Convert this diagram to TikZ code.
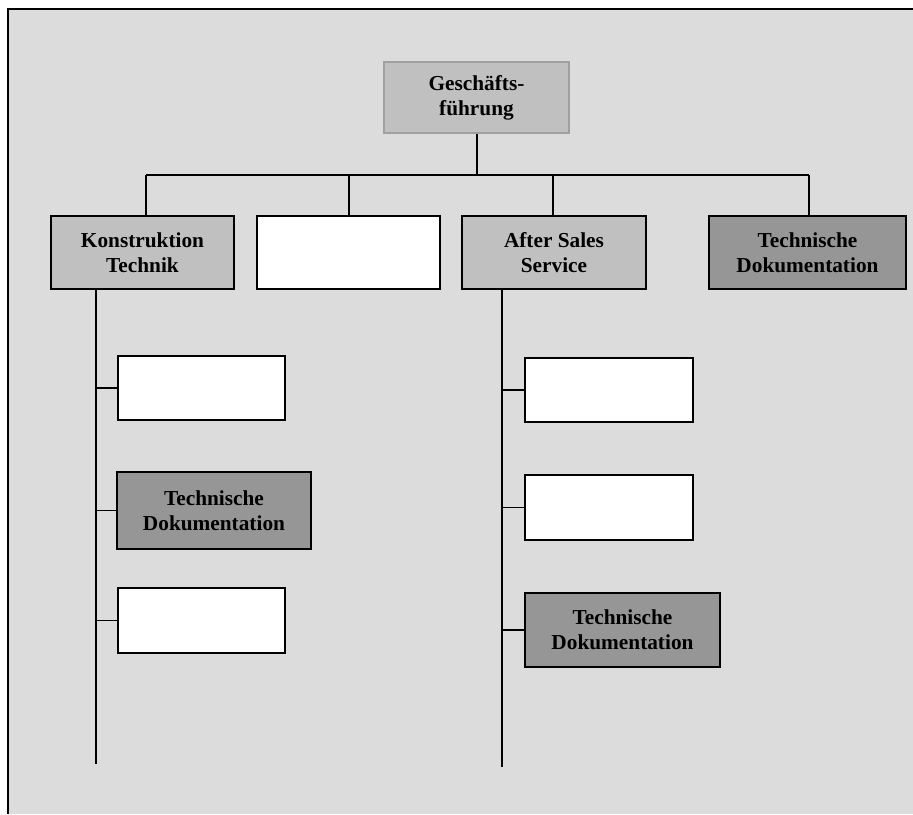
\documentclass[tikz,border=0pt]{standalone}
\usepackage{fontspec}
\setmainfont{Liberation Serif}
\definecolor{bgc}{HTML}{DCDCDC}
\definecolor{lightbox}{HTML}{C0C0C0}
\definecolor{darkbox}{HTML}{969696}
\definecolor{topborder}{HTML}{A0A0A0}
\tikzset{
  box/.style={draw=black, line width=1.6pt, rectangle, align=center, inner sep=0pt,
    font=\fontsize{21.3}{25}\selectfont\bfseries},
  lbox/.style={box, fill=lightbox},
  dbox/.style={box, fill=darkbox},
  wbox/.style={box, fill=white},
  conn/.style={line width=1.6pt, black},
}
\begin{document}
\begin{tikzpicture}[x=1pt, y=-1pt]
\useasboundingbox (0,0) rectangle (913,814);
\fill[white] (0,0) rectangle (913,814);
\fill[bgc] (8,9) rectangle (913,814);
\draw[line width=2pt] (8,814) -- (8,9) -- (913,9);

% top level
\node[lbox, draw=topborder, minimum width=185pt, minimum height=71pt] (g) at (476.5,97.5) {Geschäfts-\\führung};

% second level
\node[lbox, minimum width=183pt, minimum height=73pt] (k) at (142.5,252.5) {Konstruktion\\Technik};
\node[wbox, minimum width=183pt, minimum height=73pt] (w2) at (348.5,252.5) {};
\node[lbox, minimum width=184pt, minimum height=73pt] (a) at (554,252.5) {After Sales\\Service};
\node[dbox, minimum width=197pt, minimum height=73pt] (t1) at (807.5,252.5) {Technische\\Dokumentation};

% left children
\node[wbox, minimum width=167pt, minimum height=64pt] (l1) at (201.5,388) {};
\node[dbox, minimum width=194pt, minimum height=77pt] (l2) at (214,510.5) {Technische\\Dokumentation};
\node[wbox, minimum width=167pt, minimum height=65pt] (l3) at (201.5,620.5) {};

% right children
\node[wbox, minimum width=168pt, minimum height=64pt] (r1) at (609,390) {};
\node[wbox, minimum width=168pt, minimum height=65pt] (r2) at (609,507.5) {};
\node[dbox, minimum width=195pt, minimum height=74pt] (r3) at (622.5,630) {Technische\\Dokumentation};

% bus coordinates
\coordinate (gb) at (477,175);
\coordinate (b1) at (146,175);
\coordinate (b2) at (349,175);
\coordinate (b3) at (553,175);
\coordinate (b4) at (809,175);
\coordinate (ls) at (96,764);
\coordinate (rs) at (502,767);

\draw[conn] (g.south -| gb) -- (gb);
\draw[conn] (b1) -- (b4);
\draw[conn] (b1) -- (b1 |- k.north);
\draw[conn] (b2) -- (b2 |- w2.north);
\draw[conn] (b3) -- (b3 |- a.north);
\draw[conn] (b4) -- (b4 |- t1.north);

% spines
\draw[conn] (ls |- k.south) -- (ls);
\draw[conn] (ls |- l1.west) -- (l1.west);
\draw[conn] (ls |- l2.west) -- (l2.west);
\draw[conn] (ls |- l3.west) -- (l3.west);

\draw[conn] (rs |- a.south) -- (rs);
\draw[conn] (rs |- r1.west) -- (r1.west);
\draw[conn] (rs |- r2.west) -- (r2.west);
\draw[conn] (rs |- r3.west) -- (r3.west);
\end{tikzpicture}
\end{document}
